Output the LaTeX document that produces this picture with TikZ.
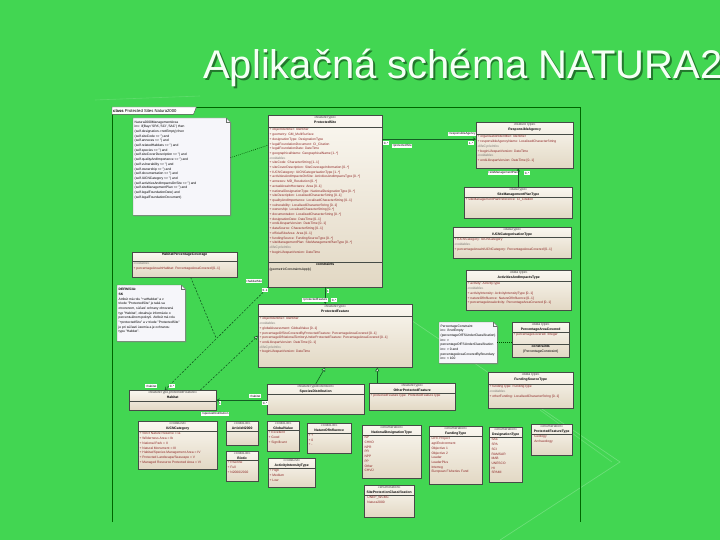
\documentclass[tikz,border=0pt]{standalone}
\usepackage{fontspec}
\setmainfont{Liberation Sans}
\usetikzlibrary{shadows,arrows.meta}
\definecolor{slidegreen}{RGB}{66,214,82}
\definecolor{boxtop}{RGB}{250,247,240}
\definecolor{boxbot}{RGB}{226,216,196}
\definecolor{boxborder}{RGB}{70,75,70}
\definecolor{attrred}{RGB}{140,35,35}
\definecolor{stgray}{RGB}{125,120,115}
\definecolor{linegreen}{RGB}{20,95,35}
\definecolor{notefill}{RGB}{246,246,250}
\definecolor{titleshadow}{RGB}{35,120,45}
\newcommand\stereo[1]{\textcolor{stgray}{«#1»}}
\newcommand\hst[1]{\textcolor{black!75}{«#1»}}
\newcommand\umlcls[8]{%
 \node[clsbox, minimum width=#4pt, minimum height=#5pt, anchor=north west] (#1) at (#2,#3) {};
 \node[clshead, anchor=north, text width=#4pt] (#1-h) at (#1.north) {#6};
 \draw[clsline] ([yshift=-#7pt]#1.north west) -- ([yshift=-#7pt]#1.north east);
 \node[clsbody, anchor=north west] (#1-b) at ([yshift=-#7pt]#1.north west) {#8};}
\newcommand\umlnote[6]{%
 \node[minimum width=#4pt, minimum height=#5pt, anchor=north west, inner sep=0pt] (#1) at (#2,#3) {};
 \filldraw[noteline, fill=notefill, drop shadow={shadow xshift=1pt,shadow yshift=-1pt,opacity=.45}] (#1.north west) -- ([xshift=-4pt]#1.north east) -- ([yshift=-4pt]#1.north east) -- (#1.south east) -- (#1.south west) -- cycle;
 \draw[noteline] ([xshift=-4pt]#1.north east) -- ([xshift=-4pt,yshift=-4pt]#1.north east) -- ([yshift=-4pt]#1.north east);
 \node[notetext, anchor=north west] (#1-t) at ([xshift=1pt,yshift=-2pt]#1.north west) {#6};}
\begin{document}
\begin{tikzpicture}[x=1pt,y=-1pt,
 clsbox/.style={draw=boxborder, line width=0.4pt, top color=boxtop, bottom color=boxbot, inner sep=0pt,
   drop shadow={shadow xshift=1.2pt,shadow yshift=-1.2pt,opacity=.5}},
 clshead/.style={font=\fontsize{3.4}{4.2}\selectfont, align=center, inner sep=1.2pt},
 clsbody/.style={font=\fontsize{3.3}{4.7}\selectfont, align=left, inner sep=1.4pt, text=attrred},
 clsline/.style={draw=boxborder, line width=0.35pt},
 noteline/.style={draw=boxborder!80, line width=0.35pt},
 notetext/.style={font=\fontsize{3.3}{4.7}\selectfont, align=left, inner sep=0.5pt},
 assoc/.style={draw=linegreen, line width=0.6pt},
 depline/.style={draw=linegreen, line width=0.6pt, dash pattern=on 2pt off 1.5pt},
 dotline/.style={draw=black!70!green, line width=0.6pt, dash pattern=on 0.8pt off 1.2pt},
 openarr/.style={-{Straight Barb[length=2.5pt,width=3pt]}},
 genarr/.style={-{Triangle[open,length=4pt,width=4pt,fill=white]}},
 lbl/.style={fill=white, inner sep=0.5pt, font=\fontsize{3}{3.5}\selectfont},
 titletext/.style={font=\fontsize{40}{48}\selectfont, inner sep=0pt, anchor=base west}]
\useasboundingbox (0,0) rectangle (720,540);
\clip (0,0) rectangle (720,540);
\fill[slidegreen] (0,0) rectangle (720,540);
% faint slide decoration
\draw[white, opacity=.22, line width=.7pt] (405,316) -- (620,462) -- (500,540);
\draw[white, opacity=.18, line width=.7pt] (540,410) -- (612,462);
\draw[white, opacity=.15, line width=.6pt] (95,100) -- (200,96);
% title (with its shadow in the same node)
\node[titletext, text=white!96!green] (title) at (203,79) {\rlap{\hspace{1.8pt}\raisebox{-1.8pt}{\textcolor{titleshadow}{Aplikačná schéma NATURA2000}}}Aplikačná schéma NATURA2000};
% diagram frame
\draw[draw=black!60!green, line width=0.5pt] (112,522) -- (112,107) -- (580,107) -- (580,522);
\node[anchor=north west, inner sep=0pt, minimum width=84pt, minimum height=7pt] (tab) at (112,107) {};
\filldraw[draw=black!70, line width=.4pt, fill=white] (tab.north west) -- (tab.north east) -- ([xshift=-3pt]tab.south east) -- (tab.south west) -- cycle;
\node[anchor=west, inner sep=1pt, font=\fontsize{4.2}{5}\selectfont] (tab-t) at (tab.west) {\textbf{class} Protected Sites Natura2000};

% ---------- notes
\umlnote{n1}{133}{118}{97}{97}{Natura2000ManagementArea\\inv: if(Bay='SPA','SCI','SAC') then\\(self.designation-{}>notEmpty) then\\(self.siteCode <{}> '') and\\(self.annexes <{}> '') and\\(self.relatedHabitats <{}> '') and\\(self.species <{}> '') and\\(self.siteCoverDescription <{}> '') and\\(self.qualityAndImportance <{}> '') and\\(self.vulnerability <{}> '') and\\(self.ownership <{}> '') and\\(self.documentation <{}> '') and\\(self.IUCNCategory <{}> '') and\\(self.activitiesAndImpactsOnSite <{}> '') and\\(self.siteManagementPlan <{}> '') and\\(self.legalFoundationDate) and\\(self.legalFoundationDocument)}
\umlnote{n2}{117}{285}{68}{56}{\textbf{DEFINÍCIA:}\\\textbf{SK}\\ Atribút má rolu "+atHabitat" a v\\triede "ProtectedSite" je taká sa\\otvorenom, súčasť ochrany ohrozená\\typ "Habitat", obsahuje informácie o\\percentuálnom pokrytí. Atribút má rolu\\"+protectedSite" a v triede "ProtectedSite"\\je pri súčasti územia a je ochranou\\typu "Habitat".}
\umlnote{n3}{439}{322}{58}{41}{PercentageConstraint\\inv: if notEmpty\\(percentageOfFSUnderClassification)\\inv: >\\percentageOfFSUnderClassification\\inv: > 0 and\\percentageAreaCoveredByBoundary\\inv: < 100}

% ---------- classes
\umlcls{ps}{268}{115}{114}{172}{\hst{featureType}\\\textbf{ProtectedSite}}{12}{%
+ objectIdentifier: Identifier\\
+ geometry: GM\_MultiSurface\\
+ designationType: DesignationType\\
+ legalFoundationDocument: CI\_Citation\\
+ legalFoundationDate: DateTime\\
+ geographicalName: GeographicalName [1..*]\\
\stereo{voidable}\\
+ siteCode: CharacterString [1..1]\\
+ siteCoverDescription: SiteCoverageInformation [0..*]\\
+ IUCNCategory: IUCNCategorisationType [1..*]\\
+ activitiesAndImpactsOnSite: ActivitiesAndImpactsType [0..*]\\
+ annexes: MD\_Resolution [0..*]\\
+ actualAreaInHectares: Area [0..1]\\
+ nationalDesignationType: NationalDesignationType [0..*]\\
+ siteDescription: LocalisedCharacterString [0..1]\\
+ qualityAndImportance: LocalisedCharacterString [0..1]\\
+ vulnerability: LocalisedCharacterString [0..1]\\
+ ownership: LocalisedCharacterString [0..*]\\
+ documentation: LocalisedCharacterString [0..*]\\
+ designationDate: DateTime [0..1]\\
+ endLifespanVersion: DateTime [0..1]\\
+ dataSource: CharacterString [0..1]\\
+ officialSiteArea: Area [0..1]\\
+ fundingSource: FundingSourceType [0..*]\\
+ siteManagementPlan: SiteManagementPlanType [0..*]\\
\stereo{lifeCycleInfo}\\
+ beginLifespanVersion: DateTime}
\draw[clsline] ([yshift=-147pt]ps.north west) -- ([yshift=-147pt]ps.north east);
\node[clshead, anchor=north] (ps-c) at ([yshift=-147pt]ps.north) {\textbf{constraints}};
\node[clsbody, text=black, anchor=north west] (ps-cb) at ([yshift=-152pt]ps.north west) {\{geometricConstraintsApply\}};

\umlcls{ra}{476}{122}{97}{46}{\hst{featureType}\\\textbf{ResponsibleAgency}}{12}{%
+ organisationIdentifier: Identifier\\
+ responsibleAgencyName: LocalisedCharacterString\\
\stereo{lifeCycleInfo}\\
+ beginLifespanVersion: DateTime\\
\stereo{voidable}\\
+ endLifespanVersion: DateTime [0..1]}

\umlcls{smp}{464}{187}{108}{31}{\hst{dataType}\\\textbf{SiteManagementPlanType}}{10}{%
+ siteManagementPlanReference: CI\_Citation}

\umlcls{iucnt}{453}{227}{118}{31}{\hst{dataType}\\\textbf{IUCNCategorisationType}}{10}{%
+ IUCNCategory: IUCNCategory\\
\stereo{voidable}\\
+ percentageAreaInIUCNCategory: PercentageAreaCovered [0..1]}

\umlcls{aai}{466}{270}{105}{40}{\hst{dataType}\\\textbf{ActivitiesAndImpactsType}}{11}{%
+ activity: ActivityType\\
\stereo{voidable}\\
+ activityIntensity: ActivityIntensityType [0..1]\\
+ natureOfInfluence: NatureOfInfluence [0..1]\\
+ percentageAreaActivity: PercentageAreaCovered [0..1]}

\umlcls{pac}{512}{322}{57}{35}{\hst{dataType}\\\textbf{PercentageAreaCovered}}{10}{%
+ percentageCovered: Integer}
\draw[clsline] ([yshift=-22pt]pac.north west) -- ([yshift=-22pt]pac.north east);
\node[clshead, anchor=north] (pac-c) at ([yshift=-22pt]pac.north) {\textbf{constraints}\\\{PercentageConstraint\}};

\umlcls{fst}{488}{372}{85}{36}{\hst{dataType}\\\textbf{FundingSourceType}}{12}{%
+ fundingType: FundingType\\
\stereo{voidable}\\
+ otherFunding: LocalisedCharacterString [0..1]}

\umlcls{hpc}{132}{252}{105}{25}{\textbf{HabitatPercentageCoverage}}{9}{%
\stereo{voidable}\\
+ percentageAreaInHabitat: PercentageAreaCovered [0..1]}

\umlcls{pf}{258}{304}{154}{63}{\hst{featureType}\\\textbf{ProtectedFeature}}{12}{%
+ objectIdentifier: Identifier\\
\stereo{voidable}\\
+ globalAssessment: GlobalValue [0..1]\\
+ percentageOfSiteCoveredByProtectedFeature: PercentageAreaCovered [0..1]\\
+ percentageOfNationalTerritoryUnderProtectedFeature: PercentageAreaCovered [0..1]\\
+ endLifespanVersion: DateTime [0..1]\\
\stereo{lifeCycleInfo}\\
+ beginLifespanVersion: DateTime}

\umlcls{hab}{129}{390}{87}{20}{\hst{featureType,protectedFeature}\\\textbf{Habitat}}{11}{}
\umlcls{sd}{267}{384}{97}{30}{\hst{featureTypeExtension}\\\textbf{SpeciesDistribution}}{10}{}
\umlcls{opf}{369}{383}{86}{27}{\hst{featureType}\\\textbf{OtherProtectedFeature}}{10}{%
+ protectedFeatureType: ProtectedFeatureType}

\umlcls{iucn}{138}{421}{79}{48}{\hst{codeList}\\\textbf{IUCNCategory}}{10}{%
+ Strict Nature Reserve = Ia\\
+ Wilderness Area = Ib\\
+ National Park = II\\
+ Natural Monument = III\\
+ Habitat/Species Management Area = IV\\
+ Protected Landscape/Seascape = V\\
+ Managed Resource Protected Area = VI}
\umlcls{art}{226}{421}{32}{24}{\hst{codeList}\\\textbf{ArticleN2000}}{10}{}
\umlcls{bio}{226}{451}{32}{30}{\hst{codeList}\\\textbf{Biotic}}{9}{%
+ Riverine\\+ Full\\+ N2000/2002}
\umlcls{gv}{267}{421}{32}{30}{\hst{codeList}\\\textbf{GlobalValue}}{9}{%
+ Excellent\\+ Good\\+ Significant}
\umlcls{noi}{307}{423}{44}{30}{\hst{codeList}\\\textbf{NatureOfInfluence}}{10}{%
+ +\\+ 0\\+ -}
\umlcls{ait}{268}{458}{47}{29}{\hst{codeList}\\\textbf{ActivityIntensityType}}{10}{%
+ High\\+ Medium\\+ Low}
\umlcls{ndt}{362}{425}{59}{53}{\hst{enumeration}\\\textbf{NationalDesignationType}}{10}{%
\ NP\\\ CHKO\\\ NPR\\\ PR\\\ NPP\\\ PP\\\ Other\\\ CHVÚ}
\umlcls{spc}{364}{485}{50}{32}{\hst{enumeration}\\\textbf{SiteProtectionClassification}}{10}{%
\ \ UNEP\_WCMC\\\ \ Natura2000}
\umlcls{ft}{429}{426}{53}{58}{\hst{enumeration}\\\textbf{FundingType}}{10}{%
\ LIFE Project\\\ agriEnvironment\\\ Objective 1\\\ Objective 2\\\ Leader\\\ LeaderPlus\\\ Interreg\\\ European Fisheries Fund}
\umlcls{dt}{489}{427}{33}{55}{\hst{enumeration}\\\textbf{DesignationType}}{10}{%
\ SAC\\\ SPA\\\ SCI\\\ RAMSAR\\\ MAB\\\ UNESCO\\\ HI\\\ SPAMI}
\umlcls{pft}{531}{424}{41}{31}{\hst{enumeration}\\\textbf{ProtectedFeatureType}}{10}{%
\ \ Geology\\\ \ Archaeology}

% ---------- connectors
\coordinate (ra-in) at ([yshift=6pt]ra.west);
\draw[assoc, openarr] (ps.east |- ra-in) -- (ra-in);
\node[lbl] (l-ra) at (462,134) {+responsibleAgency};
\node[lbl] (l-ram) at (471,143) {1..*};
\node[lbl] (l-ps) at (402,146) {+protectedSite};
\node[lbl] (l-psm) at (386,143) {0..*};

\draw[assoc, openarr] (smp.north) -- (smp.north |- ra.south);
\node[lbl] (l-smp) at (503,173) {+siteManagementPlan};
\node[lbl] (l-smpm) at (527,173) {0..*};

\draw[assoc, openarr] (ps.south) -- (ps.south |- pf.north);
\node[lbl] (l-pf) at (315,300) {+protectedFeature};
\node[lbl] (l-pfm) at (334,300) {0..*};
\node[lbl] (l-pfm2) at (328,291) {1};

\coordinate (hab-top) at ([xshift=-8pt]hab.north);
\draw[depline, openarr] (ps.south west) -- (hab-top);
\path (ps.south west) -- (hab-top) coordinate[pos=0.5] (assocmid);
\draw[depline] ([xshift=6pt]hpc.south) -- (assocmid);
\node[lbl] (l-hs) at (254,281) {+habitatSite};
\node[lbl] (l-hsm) at (265,290) {0..1};
\node[lbl] (l-h) at (151,386) {+habitat};
\node[lbl] (l-hm) at (172,386) {0..*};

\draw[depline, genarr] ([xshift=-16pt]hab.north east) -- (pf.west);

\draw[assoc, openarr] (sd.west |- hab.east) -- (hab.east);
\node[lbl] (l-sh) at (255,396) {+habitat};
\node[lbl] (l-shm) at (265,403) {0..*};
\node[lbl] (l-shm2) at (220,403) {1};
\node[lbl] (l-sdl) at (215,414) {+speciesDistribution};

\draw[assoc, genarr] (sd.north) -- ([xshift=-10pt]pf.south);
\coordinate (opf-top) at ([xshift=-35pt]opf.north);
\draw[assoc, genarr] (opf-top) -- (opf-top |- pf.south);

\draw[dotline] ([yshift=9pt]n1.east) -- ([yshift=56pt]ps.west);
\draw[dotline] (n3.east) -- (pac.west |- n3.east);
\end{tikzpicture}
\end{document}
